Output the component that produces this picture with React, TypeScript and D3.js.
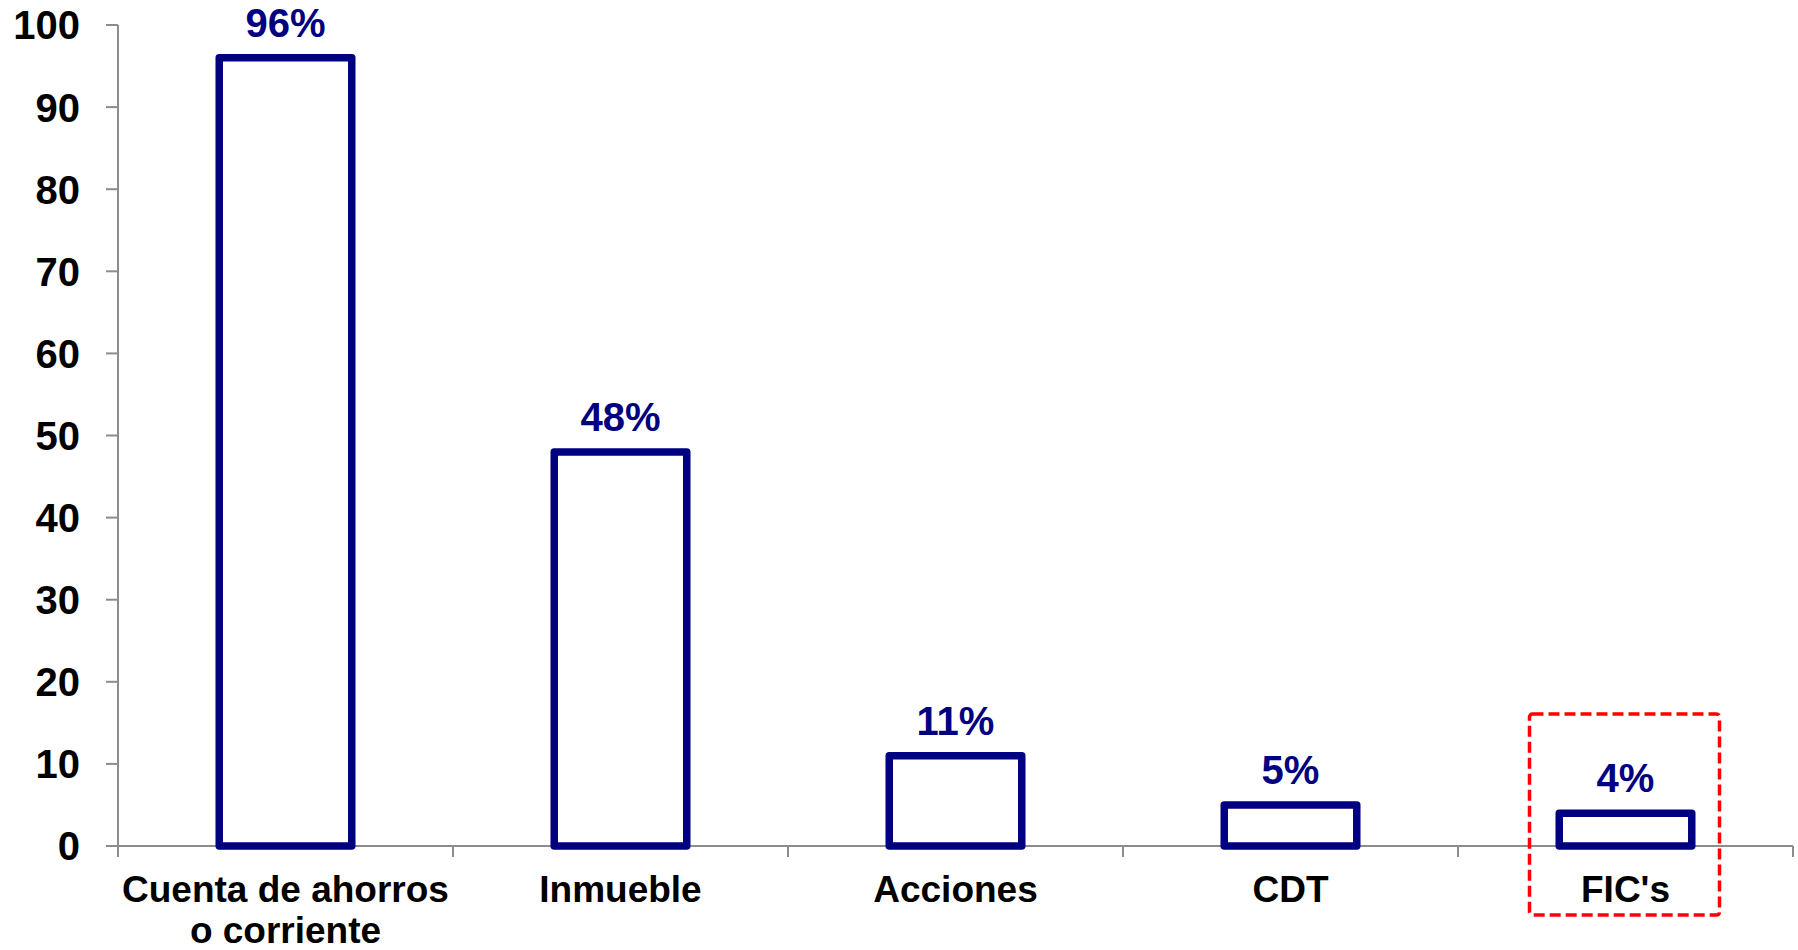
import React from "react";
import * as d3 from "d3";

const categories: string[][] = [
  ["Cuenta de ahorros", "o corriente"],
  ["Inmueble"],
  ["Acciones"],
  ["CDT"],
  ["FIC's"],
];
const values = [96, 48, 11, 5, 4];
const yTicks = [0, 10, 20, 30, 40, 50, 60, 70, 80, 90, 100];
const highlightIndex = 4;

const W = 1798;
const H = 950;
const left = 118;
const right = 1793;
const top = 25;
const bottom = 846;
const navy = "#000080";
const axisGrey = "#8c8c8c";
const font = "Arial, 'Liberation Sans', Helvetica, sans-serif";

export default function App() {
  const x = d3
    .scaleBand<number>()
    .domain(d3.range(values.length))
    .range([left, right])
    .paddingInner(0.582)
    .paddingOuter(0.291);
  const band = d3.scaleBand<number>().domain(d3.range(values.length)).range([left, right]);
  const y = d3.scaleLinear().domain([0, 100]).range([bottom, top]);
  const sw = 7.5;

  return (
    <svg
      width={W}
      height={H}
      style={{ position: "absolute", left: 0, top: 0, display: "block", background: "#fff" }}
      fontFamily={font}
    >
      {/* y axis */}
      <line x1={left} x2={left} y1={y(100)} y2={bottom} stroke={axisGrey} strokeWidth={2} />
      {yTicks.map((t) => (
        <g key={t}>
          <line x1={left - 12} x2={left} y1={y(t)} y2={y(t)} stroke={axisGrey} strokeWidth={2} />
          <text
            x={80}
            y={y(t)}
            dy="0.36em"
            textAnchor="end"
            fontSize={40}
            fontWeight="bold"
            fill="#000"
          >
            {t}
          </text>
        </g>
      ))}
      {/* x axis */}
      <line x1={left} x2={right} y1={bottom} y2={bottom} stroke={axisGrey} strokeWidth={2} />
      {d3.range(values.length + 1).map((i) => {
        const xx = i < values.length ? band(i)! : right;
        return (
          <line key={i} x1={xx} x2={xx} y1={bottom} y2={bottom + 11} stroke={axisGrey} strokeWidth={2} />
        );
      })}
      {/* bars */}
      {values.map((v, i) => {
        const x0 = x(i)! + sw / 2;
        const w = x.bandwidth() - sw;
        return (
          <g key={i}>
            <rect
              x={x0}
              y={y(v)}
              width={w}
              height={bottom - y(v)}
              fill="#fff"
              stroke={navy}
              strokeWidth={sw}
              strokeLinejoin="round"
            />
            <text
              x={x(i)! + x.bandwidth() / 2}
              y={y(v) - 21}
              textAnchor="middle"
              fontSize={40}
              fontWeight="bold"
              fill={navy}
            >
              {v}%
            </text>
          </g>
        );
      })}
      {/* category labels */}
      {categories.map((lines, i) => (
        <text
          key={i}
          x={band(i)! + band.bandwidth() / 2}
          y={902}
          textAnchor="middle"
          fontSize={37}
          fontWeight="bold"
          fill="#000"
        >
          {lines.map((l, j) => (
            <tspan key={j} x={band(i)! + band.bandwidth() / 2} dy={j === 0 ? 0 : 41}>
              {l}
            </tspan>
          ))}
        </text>
      ))}
      {/* highlight box */}
      {(() => {
        const cx = band(highlightIndex)! + band.bandwidth() / 2;
        return (
          <rect
            x={cx - 96}
            y={714}
            width={190}
            height={201}
            rx={3}
            fill="none"
            stroke="#ff0000"
            strokeWidth={3.5}
            strokeDasharray="11 5"
          />
        );
      })()}
    </svg>
  );
}
